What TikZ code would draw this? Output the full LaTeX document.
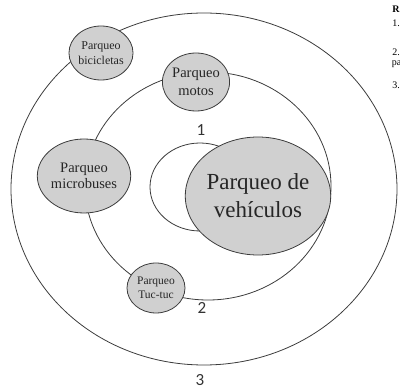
\documentclass[tikz,border=0pt]{standalone}
\usepackage{fontspec}
\setmainfont{Liberation Serif}
\newfontfamily\ringfont{Carlito}
\usetikzlibrary{shapes.geometric}

\definecolor{zonafill}{RGB}{208,208,208}
\definecolor{zonaline}{RGB}{60,60,60}

\begin{document}
\begin{tikzpicture}[x=1pt, y=-1pt, line width=0.8pt,
    ring/.style={draw=zonaline},
    zona/.style={ellipse, draw=zonaline, fill=zonafill, inner sep=0pt, align=center, text=black!85},
    ringnum/.style={inner sep=0pt, font=\ringfont\fontsize{17}{17}\selectfont, text=black!80},
    nota/.style={anchor=base west, inner sep=0pt, font=\fontsize{10}{12}\selectfont}]
  \useasboundingbox (0,0) rectangle (400,390);
  \clip (0,0) rectangle (400,390);
  % anillos 3 y 2
  \draw[ring] (204,189) ellipse [x radius=193, y radius=176];
  \draw[ring] (208,186) ellipse [x radius=123, y radius=114];
  % centro
  \draw[ring, fill=white] (200,187) ellipse [x radius=50, y radius=44];
  \node[zona, minimum width=128, minimum height=118,
        font=\fontsize{23}{28}\selectfont] (veh) at (258,196) {Parqueo de\\vehículos};
  % parqueos del anillo 2
  \node[zona, minimum width=66, minimum height=58,
        font=\fontsize{14.5}{18}\selectfont] (motos) at (196,82) {Parqueo\\motos};
  \node[zona, minimum width=76, minimum height=74,
        font=\fontsize{14.5}{16}\selectfont] (micro) at (84,176) {Parqueo\\microbuses};
  \node[zona, minimum width=58, minimum height=50,
        font=\fontsize{11.5}{14}\selectfont] (tuc) at (156,288) {Parqueo\\Tuc-tuc};
  % parqueo del anillo 3
  \node[zona, minimum width=58, minimum height=54,
        font=\fontsize{12}{15}\selectfont] (bici) at (101,53) {Parqueo\\bicicletas};
  % numeros
  \node[ringnum] (n1) at (201,130) {1};
  \node[ringnum] (n2) at (202,308) {2};
  \node[ringnum] (n3) at (200,380) {3};
  % texto cortado a la derecha
  \node[nota, font=\bfseries\fontsize{10}{12}\selectfont] (tR) at (392,13) {R};
  \node[nota] (t1) at (392,27) {1.};
  \node[nota] (t2) at (392,56) {2.};
  \node[nota] (tpa) at (391.5,66) {pa};
  \node[nota] (t3) at (392,89) {3.};
\end{tikzpicture}
\end{document}
